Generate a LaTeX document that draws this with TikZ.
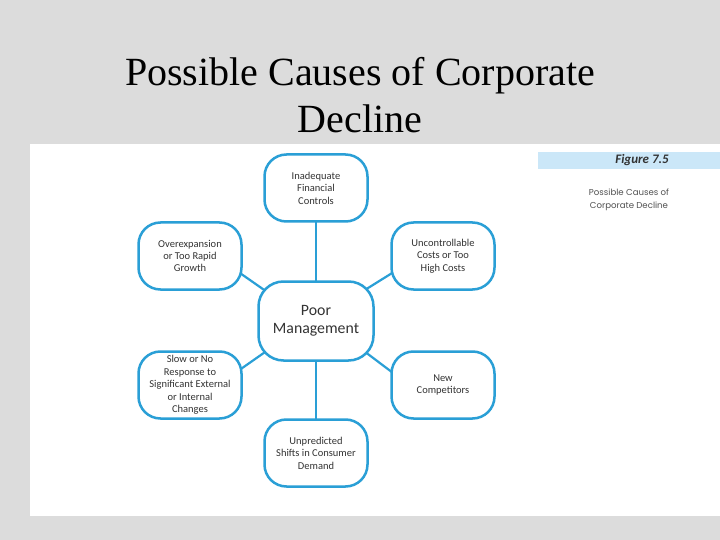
\documentclass[tikz,border=0pt]{standalone}
\usepackage{fontspec}
\setmainfont{Liberation Serif}
\newfontfamily\boxfont{Carlito}
\newfontfamily\capfont{Poppins}
\usetikzlibrary{calc,backgrounds}
\definecolor{bgray}{HTML}{DCDCDC}
\definecolor{edgeblue}{HTML}{2A9FD6}
\definecolor{barblue}{HTML}{CBE7F8}
\definecolor{txtgray}{HTML}{333333}
\tikzset{
  causebox/.style={draw=edgeblue, line width=2.5pt, fill=white, rounded corners=22pt,
    minimum width=103pt, minimum height=67pt, inner sep=1pt, align=center,
    text=txtgray, font=\boxfont\fontsize{10.5}{12.4}\selectfont},
  corebox/.style={causebox, minimum width=115pt, minimum height=79pt, rounded corners=25pt,
    font=\boxfont\fontsize{15.8}{18.5}\selectfont},
  link/.style={draw=edgeblue, line width=2.2pt}
}
\begin{document}
\begin{tikzpicture}[x=1pt,y=-1pt]
\useasboundingbox (0,0) rectangle (720,540);
\begin{scope}[on background layer]
  \fill[bgray] (0,0) rectangle (720,540);
  \fill[white] (30,144) rectangle (720,516);
  \fill[barblue] (538,152) rectangle (720,169);
\end{scope}
\node[align=center, font=\fontsize{40}{47}\selectfont, text=black] (title) at (360,95)
  {Possible Causes of Corporate\\Decline};
\node[font=\boxfont\bfseries\itshape\fontsize{13}{15}\selectfont, text=txtgray] (fig) at (642,160.5) {Figure 7.5};
\node[align=center, font=\capfont\fontsize{8.6}{13}\selectfont, text=txtgray!85] (cap) at (629,200)
  {Possible Causes of\\Corporate Decline};

\node[corebox] (c) at (316,321) {Poor\\Management};
\node[causebox] (top) at (316,188) {Inadequate\\Financial\\Controls};
\node[causebox] (lt) at (190,256) {Overexpansion\\or Too Rapid\\Growth};
\node[causebox] (rt) at (443,256) {Uncontrollable\\Costs or Too\\High Costs};
\node[causebox] (lb) at (190,385) {Slow or No\\Response to\\Significant External\\or Internal\\Changes};
\node[causebox] (rb) at (443,385) {New\\Competitors};
\node[causebox] (bot) at (316,453) {Unpredicted\\Shifts in Consumer\\Demand};

\begin{scope}[on background layer]
  \draw[link] (top.center) -- (c.center);
  \draw[link] (c.center) -- (bot.center);
  \draw[link] ($(lt.center)+(37,8)$) -- ($(c.center)+(-36,-20)$);
  \draw[link] ($(rt.center)+(-38,9)$) -- ($(c.center)+(36,-23)$);
  \draw[link] ($(lb.center)+(38,-7)$) -- ($(c.center)+(-38,22)$);
  \draw[link] ($(rb.center)+(-38,-3)$) -- ($(c.center)+(36,21)$);
\end{scope}
\end{tikzpicture}
\end{document}
